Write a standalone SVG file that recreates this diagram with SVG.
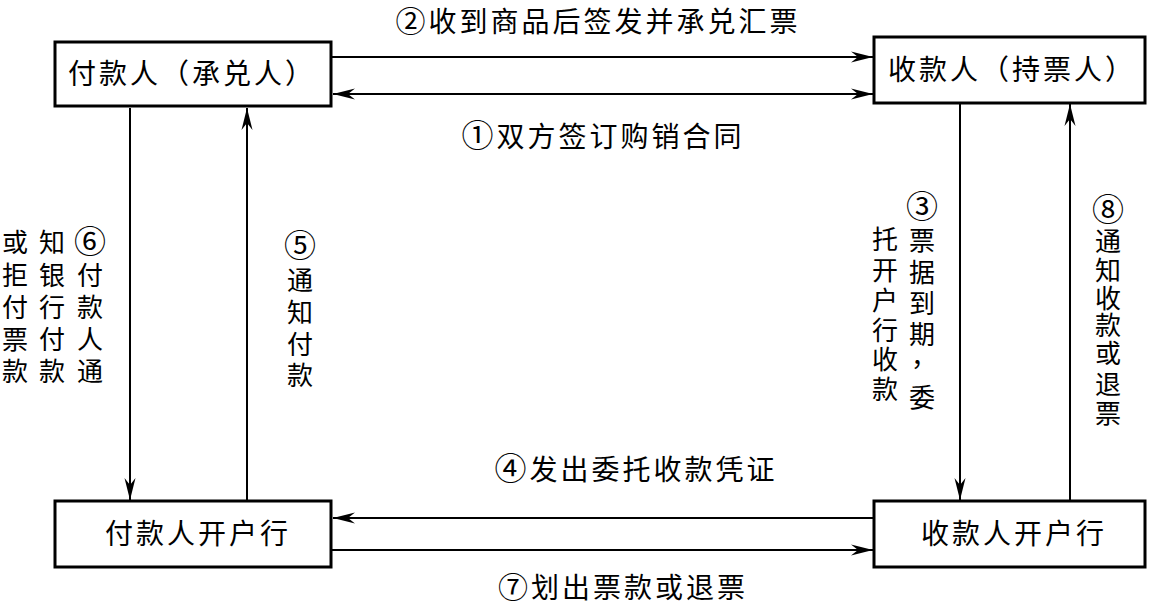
<svg xmlns="http://www.w3.org/2000/svg" width="1156" height="607" viewBox="0 0 1156 607">
<style>
.box{fill:#fff;stroke:#000;stroke-width:3}
.t{font-family:"Noto Sans CJK SC","Noto Sans",sans-serif;font-size:28px;fill:#000;text-anchor:middle}
.h{letter-spacing:3px}
.v{font-size:26px}
.n{font-size:32px}
.vn{font-size:32px}
.c{stroke:#000;stroke-width:2;fill:none}
</style>
<defs>
<marker id="ah" markerUnits="userSpaceOnUse" markerWidth="30" markerHeight="14" viewBox="-24 -7 26 14" refX="0" refY="0" orient="auto-start-reverse">
<path d="M0,0 L-22,-5.5 L-15,0 L-22,5.5 Z" fill="#000"/>
</marker>
</defs>
<rect width="1156" height="607" fill="#fff"/>
<g id="connectors">
<line class="c" x1="332" y1="57" x2="873" y2="57" marker-end="url(#ah)"/>
<line class="c" x1="333" y1="94" x2="873" y2="94" marker-start="url(#ah)" marker-end="url(#ah)"/>
<line class="c" x1="130" y1="108" x2="130" y2="500" marker-end="url(#ah)"/>
<line class="c" x1="247" y1="500" x2="247" y2="108" marker-end="url(#ah)"/>
<line class="c" x1="960" y1="104" x2="960" y2="500" marker-end="url(#ah)"/>
<line class="c" x1="1070" y1="500" x2="1070" y2="104" marker-end="url(#ah)"/>
<line class="c" x1="873" y1="518" x2="333" y2="518" marker-end="url(#ah)"/>
<line class="c" x1="332" y1="550" x2="873" y2="550" marker-end="url(#ah)"/>
</g>
<g id="payer">
<rect class="box" x="55" y="42" width="276" height="64"/>
<text class="t h" x="192" y="84">付款人（承兑人）</text>
</g>
<g id="payee">
<rect class="box" x="874" y="37" width="271" height="66"/>
<text class="t h" x="1012" y="80">收款人（持票人）</text>
</g>
<g id="payer-bank">
<rect class="box" x="55" y="501" width="276" height="66"/>
<text class="t h" x="198" y="544">付款人开户行</text>
</g>
<g id="payee-bank">
<rect class="box" x="874" y="501" width="271" height="66"/>
<text class="t h" x="1014" y="544">收款人开户行</text>
</g>
<g id="labels">
<text class="t h" x="598" y="32"><tspan style="font-size:30px">②</tspan>收到商品后签发并承兑汇票</text>
<text class="t h" x="603" y="147"><tspan class="n">①</tspan>双方签订购销合同</text>
<text class="t h" x="636" y="480"><tspan class="n">④</tspan>发出委托收款凭证</text>
<text class="t h" x="623" y="598"><tspan style="font-size:30px">⑦</tspan>划出票款或退票</text>
<text class="t v"><tspan class="vn" x="90" y="253">⑥</tspan><tspan x="90" y="285">付</tspan><tspan x="90" y="317">款</tspan><tspan x="90" y="349">人</tspan><tspan x="90" y="381">通</tspan></text>
<text class="t v"><tspan x="52" y="252">知</tspan><tspan x="52" y="285">银</tspan><tspan x="52" y="317">行</tspan><tspan x="52" y="349">付</tspan><tspan x="52" y="381">款</tspan></text>
<text class="t v"><tspan x="15" y="252">或</tspan><tspan x="15" y="285">拒</tspan><tspan x="15" y="317">付</tspan><tspan x="15" y="349">票</tspan><tspan x="15" y="381">款</tspan></text>
<text class="t v"><tspan class="vn" x="300" y="257">⑤</tspan><tspan x="300" y="290">通</tspan><tspan x="300" y="322">知</tspan><tspan x="300" y="354">付</tspan><tspan x="300" y="385">款</tspan></text>
<text class="t v"><tspan class="vn" x="922" y="218">③</tspan><tspan x="922" y="250">票</tspan><tspan x="922" y="282">据</tspan><tspan x="922" y="313">到</tspan><tspan x="922" y="344">期</tspan><tspan x="924" y="366">，</tspan><tspan x="922" y="407">委</tspan></text>
<text class="t v"><tspan x="885" y="249">托</tspan><tspan x="885" y="280">开</tspan><tspan x="885" y="310">户</tspan><tspan x="885" y="340">行</tspan><tspan x="885" y="369">收</tspan><tspan x="885" y="399">款</tspan></text>
<text class="t v"><tspan class="vn" x="1108" y="221">⑧</tspan><tspan x="1108" y="251">通</tspan><tspan x="1108" y="280">知</tspan><tspan x="1108" y="308">收</tspan><tspan x="1108" y="335">款</tspan><tspan x="1108" y="363">或</tspan><tspan x="1108" y="394">退</tspan><tspan x="1108" y="423">票</tspan></text>
</g>
</svg>
